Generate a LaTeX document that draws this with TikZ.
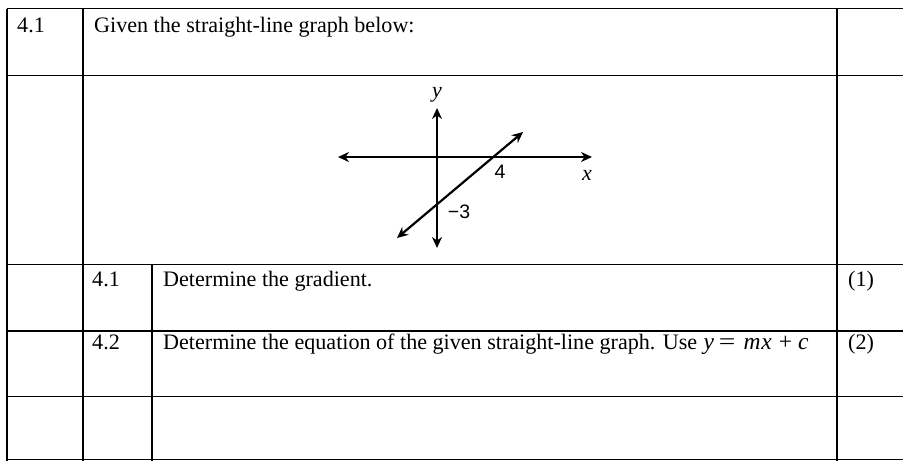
\documentclass[tikz,border=0pt]{standalone}
\usepackage{fontspec}
\setmainfont{Liberation Serif}
\newfontfamily\labsans{Liberation Sans}
\usetikzlibrary{arrows.meta}
\begin{document}
\begin{tikzpicture}[x=1pt,y=-1pt,
  rule/.style={line width=1.6pt,black},
  axis/.style={line width=2.2pt,black,{Stealth[length=11pt,width=10pt]}-{Stealth[length=11pt,width=10pt]}},
  txt/.style={anchor=base west,inner sep=0pt,font=\fontsize{22.1}{25}\selectfont},
  mathtxt/.style={anchor=base west,inner sep=0pt,font=\fontsize{23.5}{25}\selectfont},
  labit/.style={inner sep=0pt,font=\fontsize{22}{25}\selectfont\itshape},
  labsf/.style={inner sep=0pt,font=\fontsize{19.5}{22}\selectfont\labsans}]
\useasboundingbox[fill=white] (0,0) rectangle (903,461);
% horizontal rules
\draw[rule] (7,8.5) -- (903,8.5);
\draw[rule] (7,75.5) -- (903,75.5);
\draw[rule] (7,264.5) -- (903,264.5);
\draw[rule] (7,331) -- (903,331);
\draw[rule] (7,396.5) -- (903,396.5);
\draw[rule] (7,459.5) -- (903,459.5);
% vertical rules
\draw[rule] (7,8.5) -- (7,461);
\draw[rule] (83,8.5) -- (83,461);
\draw[rule] (152,264.5) -- (152,461);
\draw[rule] (837,8.5) -- (837,461);
% texts
\node[txt] (q) at (17,32) {4.1};
\node[txt] (given) at (94,32) {Given the straight-line graph below:};
\node[txt] (n41) at (92,286) {4.1};
\node[txt] (grad) at (163,286) {Determine the gradient.};
\node[txt] (m1) at (848,286) {(1)};
\node[txt] (n42) at (92,349) {4.2};
\node[txt] (eq) at (163,349) {Determine the equation of the given straight-line graph. Use};
\node[mathtxt] (eqm) at ([xshift=6pt]eq.base east) {\textit{y}\hspace{5pt}\scalebox{1.25}[1]{=}\hspace{8pt}\textit{m\hspace{1pt}x}\hspace{7pt}+\hspace{6pt}\textit{c}};
\node[txt] (m2) at (848,349) {(2)};
% graph
\coordinate (xl) at (338,157);
\coordinate (xr) at (592,157);
\coordinate (yt) at (437,108);
\coordinate (yb) at (437,248);
\coordinate (ll) at (397,238);
\coordinate (lu) at (523,132);
\draw[axis] (xl) -- (xr);
\draw[axis] (yb) -- (yt);
\draw[axis] (ll) -- (lu);
\node[labit] (ylab) at (437,95) {y};
\node[labit] (xlab) at (587,175) {x};
\node[labsf] (four) at (500,172) {4};
\node[labsf] (mthree) at (459,212) {−3};
\end{tikzpicture}
\end{document}
